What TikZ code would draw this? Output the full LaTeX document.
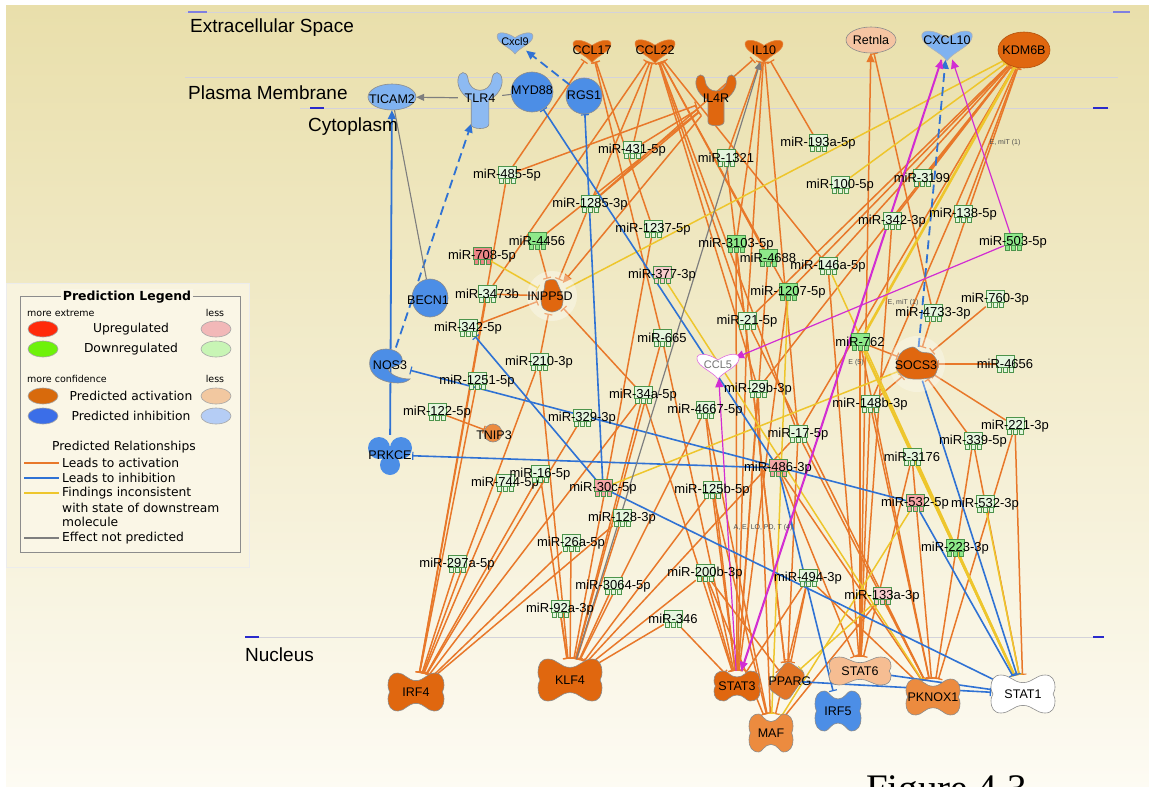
\documentclass[tikz,border=0pt]{standalone}
\usepackage{fontspec}
\setmainfont{Liberation Sans}
\newfontfamily\dvs{DejaVu Sans}
\newfontfamily\tms{Liberation Serif}
\usetikzlibrary{arrows.meta,shapes.geometric}
\pgfdeclarelayer{bgl}
\pgfdeclarelayer{edg}
\pgfsetlayers{bgl,edg,main}

\definecolor{bgtop}{HTML}{E9DFAB}
\definecolor{bgmid}{HTML}{F3ECCC}
\definecolor{bgbot}{HTML}{FDFBF3}
\definecolor{orgL}{HTML}{E8782A}
\definecolor{bluL}{HTML}{2F72D4}
\definecolor{yelL}{HTML}{EEC62C}
\definecolor{grayL}{HTML}{7E7E7E}
\definecolor{magL}{HTML}{D22CD2}
\definecolor{nOrg}{HTML}{E0670F}
\definecolor{nMed}{HTML}{EC8B3F}
\definecolor{nPeach}{HTML}{F5C4A2}
\definecolor{nBlue}{HTML}{4C8EE6}
\definecolor{nLblue}{HTML}{80B2F0}
\definecolor{mirW}{HTML}{E4F6DE}
\definecolor{mirG}{HTML}{8EE98A}
\definecolor{mirP}{HTML}{F4A6A6}
\definecolor{mirR}{HTML}{EC8686}
\definecolor{mirLP}{HTML}{F7CDCD}
\definecolor{layerL}{HTML}{D4D2DA}
\definecolor{tickB}{HTML}{2A2ACC}
\definecolor{legbg}{HTML}{F8F3DE}
\definecolor{legin}{HTML}{FAF6E6}
\definecolor{lgRed}{HTML}{FF2A0A}
\definecolor{lgGreen}{HTML}{6EF20A}
\definecolor{lgPink}{HTML}{F2B8B8}
\definecolor{lgLgreen}{HTML}{C8F5B5}
\definecolor{lgOrg}{HTML}{D86A0C}
\definecolor{lgBlue}{HTML}{3B6EE8}
\definecolor{lgPeach}{HTML}{F2C8A0}
\definecolor{lgLblue}{HTML}{B5CDF5}

\tikzset{
  shp/.style={draw=black!45, line width=0.6pt},
  core/.style={draw=none, ellipse, inner sep=0pt},
  mircore/.style={draw=none, rectangle, inner sep=0pt, minimum width=18pt, minimum height=17pt},
  mirsym/.style={draw=black!30!green!40!gray, line width=0.5pt},
  mirtxt/.style={font=\fontsize{13}{14}\selectfont, inner sep=0pt, text=black},
  glbl/.style={font=\fontsize{12.5}{13}\selectfont, inner sep=0pt, text=black},
  ea/.style={draw=orgL, line width=1.5pt, -{Bar[width=8pt,line width=1.2pt]}},
  earr/.style={draw=orgL, line width=1.5pt, -{Triangle[length=9pt,width=8pt]}},
  eb/.style={draw=bluL, line width=1.6pt, -{Bar[width=8pt,line width=1.2pt]}},
  ebarr/.style={draw=bluL, line width=1.8pt, -{Triangle[length=9pt,width=8pt]}},
  ebd/.style={draw=bluL, line width=1.8pt, dash pattern=on 9pt off 5pt, -{Triangle[length=9pt,width=8pt]}},
  ey/.style={draw=yelL, line width=1.5pt, -{Bar[width=7pt,line width=1pt]}},
  eg/.style={draw=grayL, line width=1.2pt, -{Triangle[length=8pt,width=7pt]}},
  egp/.style={draw=grayL, line width=1.1pt},
  em/.style={draw=magL, line width=1.2pt, -{Triangle[length=9pt,width=8pt]}},
  smalltxt/.style={font=\fontsize{7}{8}\selectfont, text=black!70, inner sep=0pt},
  laylbl/.style={font=\fontsize{19}{20}\selectfont, anchor=west, inner sep=0pt},
  legtxt/.style={font=\dvs\fontsize{12.3}{13}\selectfont, inner sep=0pt},
  legsm/.style={font=\dvs\fontsize{9.5}{10}\selectfont, inner sep=0pt}
}

\newcommand\mirna[5]{%
  \begin{scope}[shift={(#2,#3)}]
    \filldraw[mirsym,fill=#4] (-9,-9) rectangle (9,3) (-8,3) rectangle (-4,8) (-2,3) rectangle (2,8) (4,3) rectangle (8,8);
  \end{scope}
  \node[mircore] (#1) at (#2,#3) {};
  \node[mirtxt] at (#2,#3) {#5};}

\newcommand\tfn[7]{%
  \filldraw[shp,fill=#6,shift={(#2,#3)}]
   ({-#4+10},{-#5}) .. controls ({-0.4*#4},{-#5}) and ({-0.3*#4},{-0.6*#5}) .. (0,{-0.6*#5})
   .. controls ({0.3*#4},{-0.6*#5}) and ({0.4*#4},{-#5}) .. ({#4-10},{-#5})
   .. controls ({#4-3},{-#5}) and ({#4},{-0.75*#5}) .. ({#4},{-0.35*#5})
   .. controls ({#4},{-0.1*#5}) and ({0.94*#4},{-0.1*#5}) .. ({0.94*#4},0)
   .. controls ({0.94*#4},{0.1*#5}) and ({#4},{0.1*#5}) .. ({#4},{0.35*#5})
   .. controls ({#4},{0.75*#5}) and ({#4-3},{#5}) .. ({#4-10},{#5})
   .. controls ({0.4*#4},{#5}) and ({0.3*#4},{0.6*#5}) .. (0,{0.6*#5})
   .. controls ({-0.3*#4},{0.6*#5}) and ({-0.4*#4},{#5}) .. ({-#4+10},{#5})
   .. controls ({-#4+3},{#5}) and ({-#4},{0.75*#5}) .. ({-#4},{0.35*#5})
   .. controls ({-#4},{0.1*#5}) and ({-0.94*#4},{0.1*#5}) .. ({-0.94*#4},0)
   .. controls ({-0.94*#4},{-0.1*#5}) and ({-#4},{-0.1*#5}) .. ({-#4},{-0.35*#5})
   .. controls ({-#4},{-0.75*#5}) and ({-#4+3},{-#5}) .. cycle;
  \node[core,minimum width={2*#4},minimum height={2*#5}] (#1) at (#2,#3) {};
  \node[glbl] at (#2,#3) {#7};}

\newcommand\cyto[8]{%
  \filldraw[shp,fill=#5,draw=#6,shift={(#2,#3)},scale=#4] (0,14) .. controls (-6,6) and (-20,2) .. (-21,-6) .. controls (-22,-13) and (-10,-12) .. (0,-5) .. controls (10,-12) and (22,-13) .. (21,-6) .. controls (20,2) and (6,6) .. (0,14) -- cycle;
  \node[core,minimum width={40*#4},minimum height={26*#4}] (#1) at (#2,#3) {};
  \node[glbl,text=#8] at (#2,#3) {#7};}

\newcommand\rcpt[6]{%
  \filldraw[shp,fill=#5,shift={(#2,#3)},scale=#4] (-8,24) -- (-8,2) .. controls (-16,-2) and (-21,-10) .. (-20,-17) .. controls (-19,-25) and (-12,-25) .. (-11,-18) .. controls (-10,-10) and (-5,-7) .. (0,-7) .. controls (5,-7) and (10,-10) .. (11,-18) .. controls (12,-25) and (19,-25) .. (20,-17) .. controls (21,-10) and (16,-2) .. (8,2) -- (8,24) .. controls (8,29) and (-8,29) .. (-8,24) -- cycle;
  \node[core,minimum width={40*#4},minimum height={50*#4}] (#1) at (#2,#3) {};
  \node[glbl] at (#2,#3) {#6};}

\begin{document}
\begin{tikzpicture}[x=1pt,y=-1pt]
\useasboundingbox (0,0) rectangle (1149,787);

% ---------------- background ----------------
\begin{pgfonlayer}{bgl}
  \fill[white] (0,0) rectangle (1149,787);
  \shade[top color=bgtop, middle color=bgmid, bottom color=bgbot] (6,5) rectangle (1149,787);
  \draw[layerL, line width=0.8pt] (185,12) -- (1130,12);
  \draw[layerL, line width=0.8pt] (185,77) -- (1118,77);
  \draw[layerL, line width=0.8pt] (300,108) -- (1110,108);
  \draw[layerL, line width=0.8pt] (245,637) -- (1100,637);
  \draw[tickB!60!white, line width=1.2pt] (188,12) -- (207,12) (1113,12) -- (1130,12);
  \draw[tickB, line width=1.6pt] (310,108) -- (324,108) (1093,108) -- (1108,108);
  \draw[tickB, line width=1.6pt] (245,637) -- (259,637) (1093,637) -- (1104,637);
\end{pgfonlayer}

\node[laylbl] at (190,28) {Extracellular Space};
\node[laylbl] at (188,93) {Plasma Membrane};
\node[laylbl] at (308,127) {Cytoplasm};
\node[laylbl] at (245,655) {Nucleus};

% ---------------- nodes: top ----------------
\cyto{cxcl9}{515}{42}{0.85}{nLblue}{black!35}{\fontsize{11}{12}\selectfont Cxcl9}{black}
\cyto{ccl17}{592}{50}{0.9}{nOrg}{nOrg!80!white}{CCL17}{black}
\cyto{ccl22}{655}{50}{0.95}{nOrg}{nOrg!80!white}{CCL22}{black}
\cyto{il10}{764}{50}{0.9}{nOrg}{nOrg!80!white}{IL10}{black}
\filldraw[shp,fill=nPeach] (871,40) ellipse [x radius=25, y radius=13];
\node[core,minimum width=50pt,minimum height=26pt] (retnla) at (871,40) {};
\node[glbl] at (871,40) {Retnla};
\cyto{cxcl10}{947}{44}{1.2}{nLblue}{black!30}{}{black}
\node[glbl] at (947,40) {CXCL10};
\filldraw[shp,fill=nOrg,draw=nOrg!80!black] (1024,50) ellipse [x radius=26, y radius=18];
\node[core,minimum width=52pt,minimum height=36pt] (kdm6b) at (1024,50) {};
\node[glbl] at (1024,50) {KDM6B};

\filldraw[shp,fill=nLblue] (392,97) ellipse [x radius=24, y radius=13];
\node[core,minimum width=48pt,minimum height=26pt] (ticam2) at (392,97) {};
\node[glbl] at (392,99) {TICAM2};
\rcpt{tlr4}{480}{98}{1.1}{nLblue!90!white}{TLR4}
\filldraw[shp,fill=nBlue] (532,92) ellipse [x radius=21, y radius=20];
\node[core,minimum width=42pt,minimum height=40pt] (myd88) at (532,92) {};
\node[glbl] at (532,90) {MYD88};
\filldraw[shp,fill=nBlue] (584,96) circle [radius=18];
\node[core,minimum width=36pt,minimum height=36pt] (rgs1) at (584,96) {};
\node[glbl] at (584,95) {RGS1};
\rcpt{il4r}{716}{98}{1.0}{nOrg}{IL4R}

% ---------------- nodes: cytoplasm ----------------
\filldraw[shp,fill=nBlue] (430,298) ellipse [x radius=18, y radius=19];
\node[core,minimum width=36pt,minimum height=38pt] (becn1) at (430,298) {};
\node[glbl] at (428,300) {BECN1};

\fill[white, opacity=0.35] (552,296) circle [radius=25];
\filldraw[shp,fill=nOrg,shift={(552,296)}] plot[smooth cycle] coordinates {(-6,-15) (3,-16) (7,-9) (11,2) (9,12) (0,16) (-9,12) (-11,2) (-8,-6)};
\node[core,minimum width=30pt,minimum height=36pt] (inpp5d) at (552,296) {};
\node[glbl] at (550,296) {INPP5D};

\filldraw[shp,fill=nBlue,shift={(390,365)}] (12,-2) .. controls (14,-10) and (6,-16) .. (-4,-16) .. controls (-16,-16) and (-22,-8) .. (-20,2) .. controls (-18,12) and (-6,18) .. (8,18) .. controls (14,18) and (18,16) .. (20,14) .. controls (10,14) and (0,10) .. (-2,4) .. controls (2,2) and (8,1) .. (12,-2) -- cycle;
\node[core,minimum width=42pt,minimum height=36pt] (nos3) at (390,365) {};
\node[glbl] at (390,365) {NOS3};

\begin{scope}[shift={(390,455)}]
  \fill[nBlue] (-11,-7) circle [radius=11] (11,-7) circle [radius=11] (0,10) circle [radius=10] (0,0) circle [radius=9];
\end{scope}
\node[core,minimum width=44pt,minimum height=40pt] (prkce) at (390,455) {};
\node[glbl] at (390,455) {PRKCE};

\filldraw[shp,fill=nMed] (493,433) circle [radius=9];
\node[core,minimum width=18pt,minimum height=18pt] (tnip3) at (493,433) {};
\node[glbl] at (494,435) {TNIP3};

\cyto{ccl5}{718}{365}{1.0}{white}{magL!70!white}{\fontsize{11}{12}\selectfont CCL5}{black!55}

\fill[white, opacity=0.3] (917,364) circle [radius=28];
\filldraw[shp,fill=nOrg,shift={(917,364)}] plot[smooth cycle] coordinates {(-14,-13) (-4,-17) (4,-12) (15,-10) (21,0) (17,12) (4,15) (-10,14) (-20,6) (-19,-6)};
\node[core,minimum width=42pt,minimum height=34pt] (socs3) at (917,364) {};
\node[glbl] at (916,365) {SOCS3};

% ---------------- nodes: nucleus ----------------
\tfn{irf4}{416}{692}{28}{19}{nOrg}{IRF4}
\tfn{klf4}{570}{680}{32}{21}{nOrg}{KLF4}
\tfn{stat3}{737}{686}{23}{15}{nOrg}{STAT3}
\node[shp,fill=nOrg!90!white,rounded corners=6pt,minimum width=24pt,minimum height=34pt,rotate=-35] (pparg) at (787,681) {};
\node[glbl] at (790,681) {PPARG};
\tfn{maf}{771}{733}{22}{19}{nMed}{MAF}
\tfn{stat6}{860}{671}{31}{14}{nPeach!90!orange}{STAT6}
\tfn{irf5}{838}{711}{23}{20}{nBlue}{IRF5}
\tfn{pknox1}{933}{697}{27}{18}{nMed}{PKNOX1}
\tfn{stat1}{1023}{694}{32}{19}{white}{STAT1}

% ---------------- miRNAs ----------------
\mirna{m485}{507}{175}{mirW}{miR-485-5p}
\mirna{m431}{632}{150}{mirW}{miR-431-5p}
\mirna{m1321}{726}{158}{mirW}{miR-1321}
\mirna{m193a}{818}{143}{mirW}{miR-193a-5p}
\mirna{m1285}{590}{204}{mirW}{miR-1285-3p}
\mirna{m1237}{653}{229}{mirW}{miR-1237-5p}
\mirna{m100}{840}{185}{mirW}{miR-100-5p}
\mirna{m3199}{922}{178}{mirW}{miR-3199}
\mirna{m4456}{537}{241}{mirG}{miR-4456}
\mirna{m708}{482}{256}{mirR}{miR-708-5p}
\mirna{m3103}{736}{244}{mirG}{miR-3103-5p}
\mirna{m4688}{768}{258}{mirG}{miR-4688}
\mirna{m342t}{892}{221}{mirW}{miR-342-3p}
\mirna{m138}{963}{214}{mirW}{miR-138-5p}
\mirna{m503}{1013}{242}{mirG}{miR-503-5p}
\mirna{m377}{662}{275}{mirLP}{miR-377-3p}
\mirna{m146a}{828}{266}{mirW}{miR-146a-5p}
\mirna{m3473b}{487}{294}{mirW}{miR-3473b}
\mirna{m1207}{788}{292}{mirG}{miR-1207-5p}
\mirna{m4733}{933}{313}{mirW}{miR-4733-3p}
\mirna{m760}{995}{299}{mirW}{miR-760-3p}
\mirna{m342f}{468}{328}{mirW}{miR-342-5p}
\mirna{m665}{662}{338}{mirW}{miR-665}
\mirna{m21}{747}{321}{mirW}{miR-21-5p}
\mirna{m762}{860}{342}{mirG}{miR-762}
\mirna{m210}{539}{362}{mirW}{miR-210-3p}
\mirna{m4656}{1005}{364}{mirW}{miR-4656}
\mirna{m1251}{477}{381}{mirW}{miR-1251-5p}
\mirna{m29b}{758}{389}{mirW}{miR-29b-3p}
\mirna{m122}{437}{412}{mirW}{miR-122-5p}
\mirna{m34a}{643}{395}{mirW}{miR-34a-5p}
\mirna{m329}{582}{418}{mirW}{miR-329-3p}
\mirna{m4667}{705}{410}{mirW}{miR-4667-5p}
\mirna{m148b}{870}{404}{mirW}{miR-148b-3p}
\mirna{m221}{1015}{426}{mirW}{miR-221-3p}
\mirna{m339}{973}{441}{mirW}{miR-339-5p}
\mirna{m17}{798}{434}{mirW}{miR-17-5p}
\mirna{m3176}{912}{457}{mirW}{miR-3176}
\mirna{m486}{778}{468}{mirP}{miR-486-3p}
\mirna{m744}{505}{483}{mirW}{miR-744-5p}
\mirna{m16}{540}{474}{mirW}{miR-16-5p}
\mirna{m30c}{603}{488}{mirP}{miR-30c-5p}
\mirna{m125b}{712}{490}{mirW}{miR-125b-5p}
\mirna{m532f}{915}{503}{mirP}{miR-532-5p}
\mirna{m532t}{985}{504}{mirW}{miR-532-3p}
\mirna{m128}{622}{518}{mirW}{miR-128-3p}
\mirna{m223}{955}{548}{mirG}{miR-223-3p}
\mirna{m26a}{571}{543}{mirW}{miR-26a-5p}
\mirna{m297a}{457}{564}{mirW}{miR-297a-5p}
\mirna{m200b}{705}{573}{mirW}{miR-200b-3p}
\mirna{m3064}{613}{586}{mirW}{miR-3064-5p}
\mirna{m494}{808}{578}{mirW}{miR-494-3p}
\mirna{m133a}{882}{596}{mirLP}{miR-133a-3p}
\mirna{m92a}{560}{609}{mirW}{miR-92a-3p}
\mirna{m346}{673}{619}{mirW}{miR-346}

\node[smalltxt] at (1005,143) {E, miT (1)};
\node[smalltxt] at (903,303) {E, miT (1)};
\node[smalltxt] at (856,363) {E (5)};
\node[smalltxt] at (763,528) {A, E, LO, PD, T (4)};

% ---------------- edges ----------------
\begin{pgfonlayer}{edg}
\foreach \s/\t in {m1237/ccl17, m485/ccl17, m665/ccl17,
  m1285/ccl22, m431/ccl22, m4688/ccl22, m1207/ccl22, m21/ccl22, m146a/ccl22, m17/ccl22, m3473b/ccl22, m29b/ccl22,
  m1285/il4r, m431/il4r, m485/il4r, m4456/il4r,
  m1321/il10, m193a/il10, m3103/il10, m21/il10, m17/il10, m1285/il10,
  m4733/retnla,
  m3199/kdm6b, m342t/kdm6b, m138/kdm6b, m146a/kdm6b, m1207/kdm6b, m21/kdm6b, m4733/kdm6b, m17/kdm6b, m29b/kdm6b, m148b/kdm6b,
  m4456/inpp5d, m3473b/inpp5d, m342f/inpp5d, m210/inpp5d, m1285/inpp5d, m34a/inpp5d,
  m4733/socs3, m760/socs3, m4656/socs3, m762/socs3, m221/socs3, m339/socs3, m148b/socs3,
  m122/tnip3,
  m485/irf4, m1251/irf4, m297a/irf4, m744/irf4, m16/irf4, m26a/irf4, m128/irf4, m34a/irf4, m210/irf4, m329/irf4, m3473b/irf4,
  m92a/klf4, m3064/klf4, m26a/klf4, m128/klf4, m346/klf4, m34a/klf4, m665/klf4, m1237/klf4, m200b/klf4, m125b/klf4, m4667/klf4, m17/klf4, m210/klf4, m16/klf4,
  m21/stat3, m665/stat3, m4667/stat3, m29b/stat3, m125b/stat3, m200b/stat3, m3103/stat3, m4688/stat3, m1207/stat3, m34a/stat3, m494/stat3, m346/stat3,
  m1321/pparg, m17/pparg, m494/pparg, m200b/pparg, m3103/pparg,
  m4667/maf, m29b/maf, m125b/maf, m494/maf, m200b/maf, m133a/maf,
  m762/stat6, m146a/stat6, m148b/stat6, m3176/stat6, m342t/stat6, m486/stat6,
  m3176/pknox1, m148b/pknox1, m17/pknox1, m21/pknox1, m486/pknox1, m133a/pknox1, m339/pknox1, m221/pknox1, m494/pknox1, m762/pknox1,
  m223/stat1, m339/stat1, m221/stat1}
  \draw[ea] (\s) -- (\t);
\draw[earr] (il4r) -- (inpp5d);
\draw[earr] (stat6) -- (retnla);
% yellow
\foreach \s/\t in {m708/inpp5d, inpp5d/kdm6b, m377/pknox1, m30c/socs3, m146a/stat1, m3176/stat1, m532t/stat1, m532f/maf, m1207/maf, m100/kdm6b, m133a/pparg}
  \draw[ey] (\s) -- (\t);
\draw[ey, line width=2.6pt] (m762) -- (kdm6b);
\draw[ey, line width=2.6pt] (m762) -- (stat1);
% blue
\foreach \s/\t in {m532f/nos3, m486/prkce, m30c/m342f, m30c/rgs1, m486/myd88, m30c/stat1, socs3/stat1, m532f/stat1, stat6/stat1, pparg/stat1, m486/irf5}
  \draw[eb] (\s) -- (\t);
\draw[ebarr] (prkce) -- (ticam2);
\draw[ebd] (nos3) -- (tlr4);
\draw[ebd] (rgs1) -- (cxcl9);
\draw[ebd] (socs3) -- (cxcl10);
% gray
\draw[eg] (klf4) -- (il10);
\draw[eg] (tlr4) -- (ticam2);
\draw[egp] (myd88) -- (tlr4);
\draw[egp] (becn1) -- (ticam2);
% magenta
\draw[em] (m503) -- (ccl5);
\draw[em] (m503) -- (cxcl10);
\draw[em] (stat3) -- (ccl5);
\draw[em] (stat3) -- (cxcl10);
\draw[em] ([xshift=-6pt]cxcl10.south) -- ([xshift=4pt]stat3.north);
\end{pgfonlayer}

% ---------------- legend ----------------
\filldraw[fill=legbg, draw=white!85!gray, line width=0.6pt] (6,283) rectangle (249,567);
\filldraw[fill=legin, draw=black!45, line width=0.9pt] (20,296) rectangle (240,552);
\node[fill=legin, inner sep=2pt, font=\dvs\bfseries\fontsize{12.5}{13}\selectfont] at (127,297) {Prediction Legend};
\node[legsm, anchor=west] at (27,313) {more extreme};
\node[legsm] at (215,313) {less};
\node[legsm, anchor=west] at (27,379) {more confidence};
\node[legsm] at (215,379) {less};
\foreach \yy/\ca/\cb/\tx in {329/lgRed/lgPink/Upregulated, 349/lgGreen/lgLgreen/Downregulated, 396/lgOrg/lgPeach/Predicted activation, 416/lgBlue/lgLblue/Predicted inhibition}{
  \filldraw[fill=\ca, draw=black!35, line width=0.6pt] (43,\yy) ellipse [x radius=15, y radius=8];
  \filldraw[fill=\cb, draw=black!35, line width=0.6pt] (216,\yy) ellipse [x radius=15, y radius=8];
  \node[legtxt] at (131,\yy) {\tx};
}
\node[legtxt] at (124,447) {Predicted Relationships};
\draw[orgL, line width=2.2pt] (24,463) -- (59,463);
\node[legtxt, anchor=west] at (62,463) {Leads to activation};
\draw[bluL, line width=2.2pt] (24,478) -- (59,478);
\node[legtxt, anchor=west] at (62,478) {Leads to inhibition};
\draw[yelL, line width=2.2pt] (24,493) -- (59,493);
\node[legtxt, anchor=west] at (62,493) {Findings inconsistent};
\node[legtxt, anchor=west] at (62,508) {with state of downstream};
\node[legtxt, anchor=west] at (62,522) {molecule};
\draw[grayL, line width=2.2pt] (24,538) -- (59,538);
\node[legtxt, anchor=west] at (62,538) {Effect not predicted};

% ---------------- figure caption ----------------
\node[anchor=base west, inner sep=0pt, font=\tms\fontsize{39}{40}\selectfont] at (866,801) {Figure 4.3};
\end{tikzpicture}
\end{document}
